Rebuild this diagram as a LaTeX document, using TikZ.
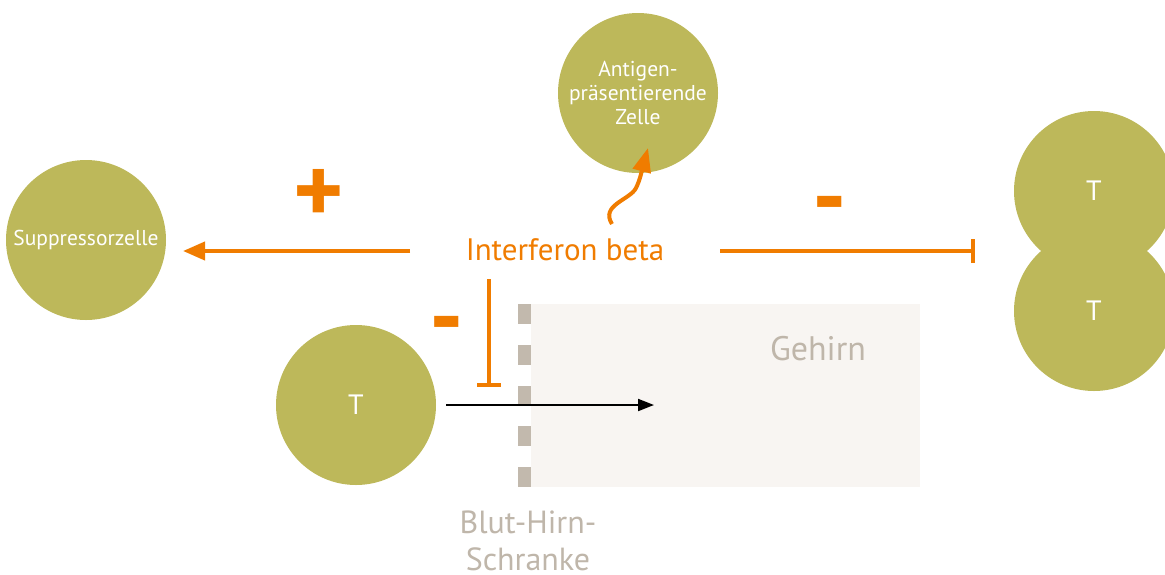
\documentclass[tikz,border=0pt]{standalone}
\usepackage{fontspec}
\setmainfont{PT Sans}
\usetikzlibrary{arrows.meta}
\definecolor{olive}{HTML}{BDB85A}
\definecolor{ora}{HTML}{F07C00}
\definecolor{graytext}{HTML}{BFB6AA}
\definecolor{barrier}{HTML}{C2B9AD}
\definecolor{brain}{HTML}{F8F5F2}
\tikzset{
  cell/.style={circle,fill=olive,minimum size=160pt,inner sep=0pt,text=white,align=center},
  cellsmall/.style={font=\fontsize{21.5}{24}\selectfont},
  celllabel/.style={font=\fontsize{28}{30}\selectfont},
  oline/.style={draw=ora,line width=4pt},
  sign/.style={text=ora,font=\fontsize{96}{96}\selectfont\bfseries,inner sep=0pt},
  graylabel/.style={text=graytext,font=\fontsize{34}{40}\selectfont,align=center},
}
\begin{document}
\begin{tikzpicture}[x=1pt,y=-1pt]
\useasboundingbox (0,0) rectangle (1165,574);
% brain
\fill[brain] (531,304) rectangle (920,487);
\node[graylabel] (gehirn) at (818,349) {Gehirn};
\foreach \y in {304,345,386,426,467}{
  \fill[barrier] (518,\y) rectangle (531,\y+20);
}
\node[graylabel,font=\fontsize{32}{37}\selectfont,inner sep=0pt,anchor=base] (bhs) at (528,570) {Blut-Hirn-\\Schranke};
% cells
\node[cell,cellsmall] (supp) at (86,240) {Suppressorzelle};
\node[cell,cellsmall] (apc) at (638,93) {Antigen-\\präsentierende\\Zelle};
\node[cell,celllabel] (tl) at (356,405) {T};
\node[cell,celllabel] (tr1) at (1094,191) {T};
\node[cell,celllabel] (tr2) at (1094,311) {T};
% interferon
\node[text=ora,font=\fontsize{31}{34}\selectfont] (ifn) at (565,250) {Interferon beta};
% left arrow
\coordinate (la) at (410,251);
\coordinate (lb) at (183,251);
\draw[oline,-{Triangle[length=22pt,width=18pt]}] (la) -- (lb);
\node[sign] (plus) at (319,196) {+};
% right inhibitor
\coordinate (ra) at (720,251);
\coordinate (rb) at (973,251);
\draw[oline] (ra) -- (rb);
\draw[oline] ([yshift=-12pt]rb) -- ([yshift=12pt]rb);
\node[sign] (minus1) at (830,213) {-};
% down inhibitor
\coordinate (da) at (489,279);
\coordinate (db) at (489,385);
\draw[oline] (da) -- (db);
\draw[oline] ([xshift=-12pt]db) -- ([xshift=12pt]db);
\node[sign] (minus2) at (447,333) {-};
% T migration
\coordinate (ma) at (446,405);
\coordinate (mb) at (654,405);
\draw[line width=2pt,-{Triangle[length=16pt,width=12pt]}] (ma) -- (mb);
% wavy arrow
\coordinate (wa) at (612,224);
\coordinate (wb) at (648,148);
\draw[oline,-{Triangle[length=24pt,width=18pt]}] (wa) .. controls (600,205) and (630,200) .. (636,188) .. controls (640,180) and (642,170) .. (wb);
\end{tikzpicture}
\end{document}
